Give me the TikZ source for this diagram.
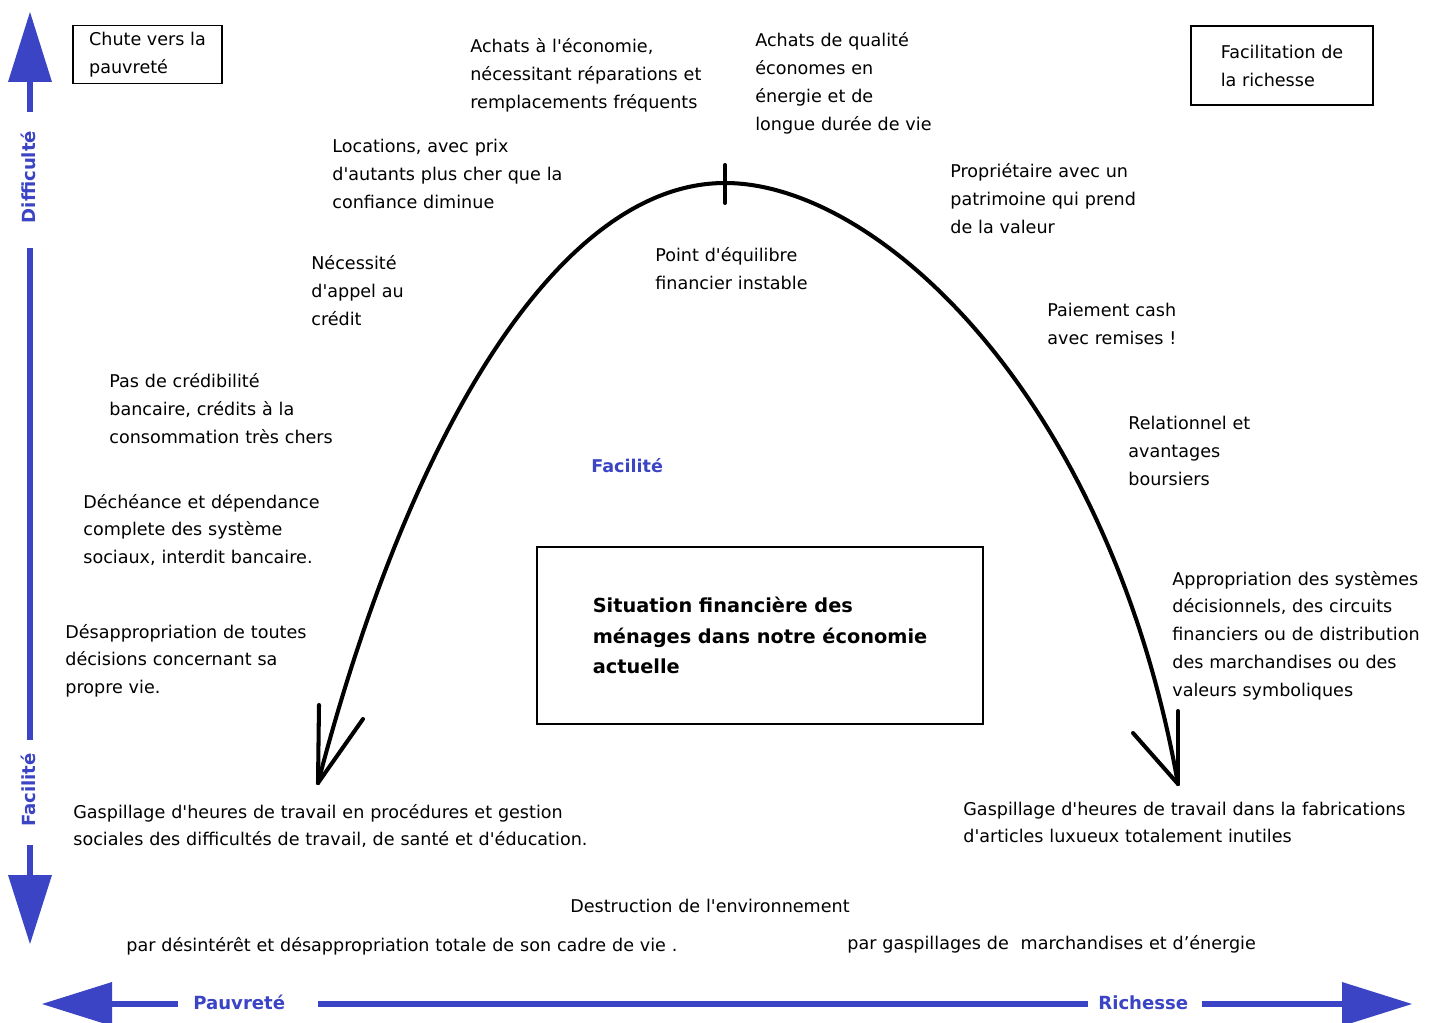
\documentclass[tikz,border=0pt]{standalone}
\usepackage{fontspec}
\setmainfont{DejaVu Sans}[Ligatures=TeXOff]
\usepackage{xcolor}
\definecolor{axeBlue}{RGB}{58,68,196}

\begin{document}
\begin{tikzpicture}[x=0.02cm, y=-0.02cm,
    txt/.style={anchor=base west, inner sep=0pt, text width=5.6cm, align=left, font=\fontsize{10}{15.9}\selectfont},
    cadre/.style={draw, line width=0.8pt, align=left, inner sep=0pt, font=\fontsize{10}{15.9}\selectfont},
    axe/.style={draw=axeBlue, line width=3.7pt},
    axelbl/.style={text=axeBlue, font=\fontsize{10.3}{12}\selectfont\bfseries, inner sep=0pt},
    courbe/.style={line width=2.3pt, line cap=round, line join=round}]
    \useasboundingbox (0,0) rectangle (1443,1023);
    \clip (0,0) rectangle (1443,1023);

    \fill[axeBlue] (30,12) -- (8,82) -- (52,82) -- cycle;
    \draw[axe] (30,80) -- (30,112);
    \node[axelbl, rotate=90] (difficulte) at (28,177) {Difficulté};
    \draw[axe] (30,248) -- (30,740);
    \node[axelbl, rotate=90] (faciliteAxe) at (28,790) {Facilité};
    \draw[axe] (30,845) -- (30,877);
    \fill[axeBlue] (30,944) -- (8,875) -- (52,875) -- cycle;

    \fill[axeBlue] (42,1004) -- (112,982) -- (112,1026) -- cycle;
    \draw[axe] (110,1004) -- (178,1004);
    \node[axelbl, anchor=base west] (pauvrete) at (193,1009) {Pauvreté};
    \draw[axe] (318,1004) -- (1088,1004);
    \node[axelbl, anchor=base west] (richesse) at (1098,1009) {Richesse};
    \draw[axe] (1202,1004) -- (1344,1004);
    \fill[axeBlue] (1412,1004) -- (1342,982) -- (1342,1026) -- cycle;

    \coordinate (sommet) at (725,183);
    \coordinate (finPauv) at (318,783);
    \coordinate (finRich) at (1178,784);
    \draw[courbe] (finPauv) .. controls (410,430) and (560,183) .. (sommet)
        .. controls (880,183) and (1110,400) .. (finRich);
    \draw[courbe] (finPauv) -- ++(1,-78);
    \draw[courbe] (finPauv) -- ++(45,-64);
    \draw[courbe] (finRich) -- ++(0,-73);
    \draw[courbe] (finRich) -- ++(-45,-51);
    \draw[courbe] (sommet) ++(0,-18) -- ++(0,38);

    \node[cadre, minimum width=2.98cm, minimum height=1.16cm] (chute) at (147.5,54.5) {Chute vers la\\pauvreté};
    \node[cadre, minimum width=3.64cm, minimum height=1.58cm] (richbox) at (1282,65.5) {Facilitation de\\la richesse};
    \node[cadre, minimum width=8.92cm, minimum height=3.54cm, font=\fontsize{11}{17.4}\selectfont\bfseries] (situation) at (760,635.5) {Situation financière des\\ménages dans notre économie\\actuelle};

    \node[txt] (achatsEco) at (470,53) {Achats à l'économie,\\nécessitant réparations et\\remplacements fréquents};
    \node[txt] (achatsQual) at (755,47) {Achats de qualité\\économes en\\énergie et de\\longue durée de vie};
    \node[txt] (locations) at (332,153) {Locations, avec prix\\d'autants plus cher que la\\confiance diminue};
    \node[txt] (proprio) at (950,178) {Propriétaire avec un\\patrimoine qui prend\\de la valeur};
    \node[txt] (equilibre) at (655,262) {Point d'équilibre\\financier instable};
    \node[txt] (credit) at (311,270) {Nécessité\\d'appel au\\crédit};
    \node[txt] (cash) at (1047,317) {Paiement cash\\avec remises !};
    \node[txt] (credibilite) at (109,388) {Pas de crédibilité\\bancaire, crédits à la\\consommation très chers};
    \node[txt] (relationnel) at (1128,430) {Relationnel et\\avantages\\boursiers};
    \node[axelbl, font=\fontsize{10}{12}\selectfont\bfseries, anchor=base west] (facilite) at (591,473) {Facilité};
    \node[txt] (decheance) at (83,508) {Déchéance et dépendance\\complete des système\\sociaux, interdit bancaire.};
    \node[txt] (appropriation) at (1172,585) {Appropriation des systèmes\\décisionnels, des circuits\\financiers ou de distribution\\des marchandises ou des\\valeurs symboliques};
    \node[txt] (desappropriation) at (65,638) {Désappropriation de toutes\\décisions concernant sa\\propre vie.};
    \node[txt, text width=12cm] (gaspiPauv) at (73,818) {Gaspillage d'heures de travail en procédures et gestion\\sociales des difficultés de travail, de santé et d'éducation.};
    \node[txt, text width=10cm] (gaspiRich) at (963,815) {Gaspillage d'heures de travail dans la fabrications\\d'articles luxueux totalement inutiles};
    \node[txt, text width=7cm] (destruction) at (570,912) {Destruction de l'environnement};
    \node[txt, text width=12.5cm] (parDesinteret) at (126,951) {par désintérêt et désappropriation totale de son cadre de vie .};
    \node[txt, text width=9cm] (parGaspi) at (847,949) {par gaspillages de\ \ marchandises et d’énergie};
\end{tikzpicture}
\end{document}
